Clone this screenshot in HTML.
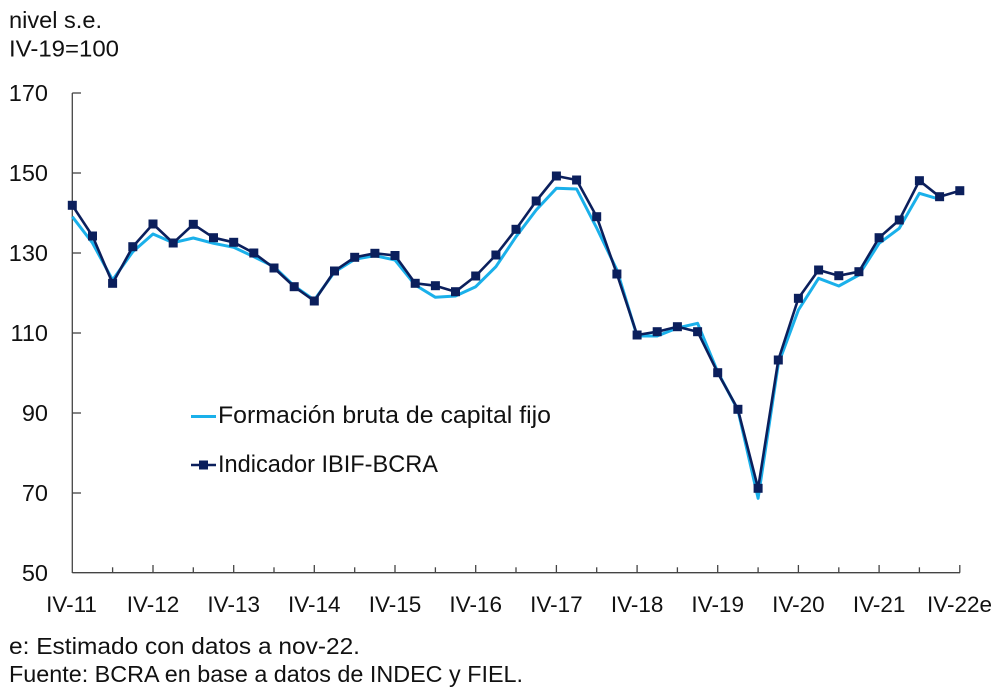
<!DOCTYPE html>
<html>
<head>
<meta charset="utf-8">
<style>
  html, body { margin: 0; padding: 0; background: #fff; }
  svg { display: block; }
  text { font-family: "Liberation Sans", Arial, sans-serif; fill: #111; }
</style>
</head>
<body>
<svg width="1001" height="693" viewBox="0 0 1001 693" xmlns="http://www.w3.org/2000/svg">
  <defs>
    <marker id="sq" markerWidth="9" markerHeight="9" refX="4.5" refY="4.5" markerUnits="userSpaceOnUse" overflow="visible">
      <rect x="0" y="0" width="9" height="9" fill="#0b1f5c"/>
    </marker>
  </defs>

  <!-- header -->
  <text x="9" y="28" font-size="23.5" textLength="93" lengthAdjust="spacingAndGlyphs">nivel s.e.</text>
  <text x="9" y="56.5" font-size="23.5" textLength="110" lengthAdjust="spacingAndGlyphs">IV-19=100</text>

  <!-- y axis -->
  <g stroke="#444" stroke-width="1.3">
    <line x1="72.3" y1="93" x2="72.3" y2="573"/>
    <line x1="72.3" y1="93" x2="81" y2="93"/>
    <line x1="72.3" y1="173" x2="81" y2="173"/>
    <line x1="72.3" y1="253" x2="81" y2="253"/>
    <line x1="72.3" y1="333" x2="81" y2="333"/>
    <line x1="72.3" y1="413" x2="81" y2="413"/>
    <line x1="72.3" y1="493" x2="81" y2="493"/>
  </g>
  <g font-size="23.5" text-anchor="end">
    <text x="48" y="101">170</text>
    <text x="48" y="181">150</text>
    <text x="48" y="261">130</text>
    <text x="48" y="341">110</text>
    <text x="48" y="421">90</text>
    <text x="48" y="501">70</text>
    <text x="48" y="581">50</text>
  </g>

  <!-- x axis -->
  <g stroke="#444" stroke-width="1.3">
    <line x1="72.3" y1="572.7" x2="960" y2="572.7"/>
    <!-- minor ticks -->
    <line x1="112.6" y1="567.3" x2="112.6" y2="572.7"/>
    <line x1="193.3" y1="567.3" x2="193.3" y2="572.7"/>
    <line x1="274" y1="567.3" x2="274" y2="572.7"/>
    <line x1="354.7" y1="567.3" x2="354.7" y2="572.7"/>
    <line x1="435.4" y1="567.3" x2="435.4" y2="572.7"/>
    <line x1="516" y1="567.3" x2="516" y2="572.7"/>
    <line x1="596.7" y1="567.3" x2="596.7" y2="572.7"/>
    <line x1="677.4" y1="567.3" x2="677.4" y2="572.7"/>
    <line x1="758.1" y1="567.3" x2="758.1" y2="572.7"/>
    <line x1="838.8" y1="567.3" x2="838.8" y2="572.7"/>
    <line x1="919.4" y1="567.3" x2="919.4" y2="572.7"/>
    <!-- major ticks -->
    <line x1="153" y1="565" x2="153" y2="572.7"/>
    <line x1="233.7" y1="565" x2="233.7" y2="572.7"/>
    <line x1="314.3" y1="565" x2="314.3" y2="572.7"/>
    <line x1="395" y1="565" x2="395" y2="572.7"/>
    <line x1="475.7" y1="565" x2="475.7" y2="572.7"/>
    <line x1="556.4" y1="565" x2="556.4" y2="572.7"/>
    <line x1="637.1" y1="565" x2="637.1" y2="572.7"/>
    <line x1="717.7" y1="565" x2="717.7" y2="572.7"/>
    <line x1="798.4" y1="565" x2="798.4" y2="572.7"/>
    <line x1="879.1" y1="565" x2="879.1" y2="572.7"/>
    <line x1="959.8" y1="565" x2="959.8" y2="572.7"/>
  </g>
  <g font-size="22.5" text-anchor="middle">
    <text x="71.5" y="612">IV-11</text>
    <text x="153" y="612">IV-12</text>
    <text x="233.7" y="612">IV-13</text>
    <text x="314.3" y="612">IV-14</text>
    <text x="395" y="612">IV-15</text>
    <text x="475.7" y="612">IV-16</text>
    <text x="556.4" y="612">IV-17</text>
    <text x="637.1" y="612">IV-18</text>
    <text x="717.7" y="612">IV-19</text>
    <text x="798.4" y="612">IV-20</text>
    <text x="879.1" y="612">IV-21</text>
    <text x="959.5" y="612">IV-22e</text>
  </g>

  <!-- light series -->
  <polyline fill="none" stroke="#1ab0ea" stroke-width="3" stroke-linejoin="round"
    points="72.3,216.7 92.5,243 112.6,280 132.8,251.7 153,234 173.2,242.7 193.3,238 213.5,243.3 233.7,247.3 253.8,256.7 274,266.7 294.2,286 314.3,300 334.5,272 354.7,259.3 374.9,255.7 395,260 415.2,285 435.4,297.3 455.5,296 475.7,286.7 495.9,266.7 516,236.7 536.2,210 556.4,188.3 576.6,189 596.7,228 616.9,270 637.1,336 657.2,336 677.4,328 697.6,323.3 717.7,372 737.9,410 758.1,498.3 778.3,364 798.4,310 818.6,278.3 838.8,286 858.9,275 879.1,243.3 899.3,228.3 919.4,193.3 939.6,199.3"/>

  <!-- dark series -->
  <polyline fill="none" stroke="#0b1f5c" stroke-width="2.6" stroke-linejoin="round"
    marker-start="url(#sq)" marker-mid="url(#sq)" marker-end="url(#sq)"
    points="72.3,205.3 92.5,236 112.6,283.3 132.8,246.7 153,224 173.2,243 193.3,224.3 213.5,237.7 233.7,242.3 253.8,253 274,268 294.2,286.7 314.3,301 334.5,271 354.7,257.3 374.9,253.3 395,255.5 415.2,283.3 435.4,285.7 455.5,291.7 475.7,276 495.9,255 516,229.3 536.2,201 556.4,176 576.6,180 596.7,216.7 616.9,274 637.1,335 657.2,331.7 677.4,326.7 697.6,331.7 717.7,372.7 737.9,409.3 758.1,488.3 778.3,360 798.4,298.3 818.6,270 838.8,275.7 858.9,271.7 879.1,237.7 899.3,220 919.4,180.7 939.6,196.7 959.8,190.7"/>

  <!-- legend -->
  <line x1="191" y1="416.5" x2="216" y2="416.5" stroke="#1ab0ea" stroke-width="3"/>
  <text x="218" y="423" font-size="24" textLength="333" lengthAdjust="spacingAndGlyphs">Formación bruta de capital fijo</text>
  <line x1="191" y1="465" x2="216" y2="465" stroke="#0b1f5c" stroke-width="2.6"/>
  <rect x="199" y="460.5" width="9" height="9" fill="#0b1f5c"/>
  <text x="218" y="472" font-size="24" textLength="220" lengthAdjust="spacingAndGlyphs">Indicador IBIF-BCRA</text>

  <!-- footer -->
  <text x="9" y="654" font-size="23" textLength="351" lengthAdjust="spacingAndGlyphs">e: Estimado con datos a nov-22.</text>
  <text x="9" y="682" font-size="23" textLength="514" lengthAdjust="spacingAndGlyphs">Fuente: BCRA en base a datos de INDEC y FIEL.</text>
</svg>
</body>
</html>
